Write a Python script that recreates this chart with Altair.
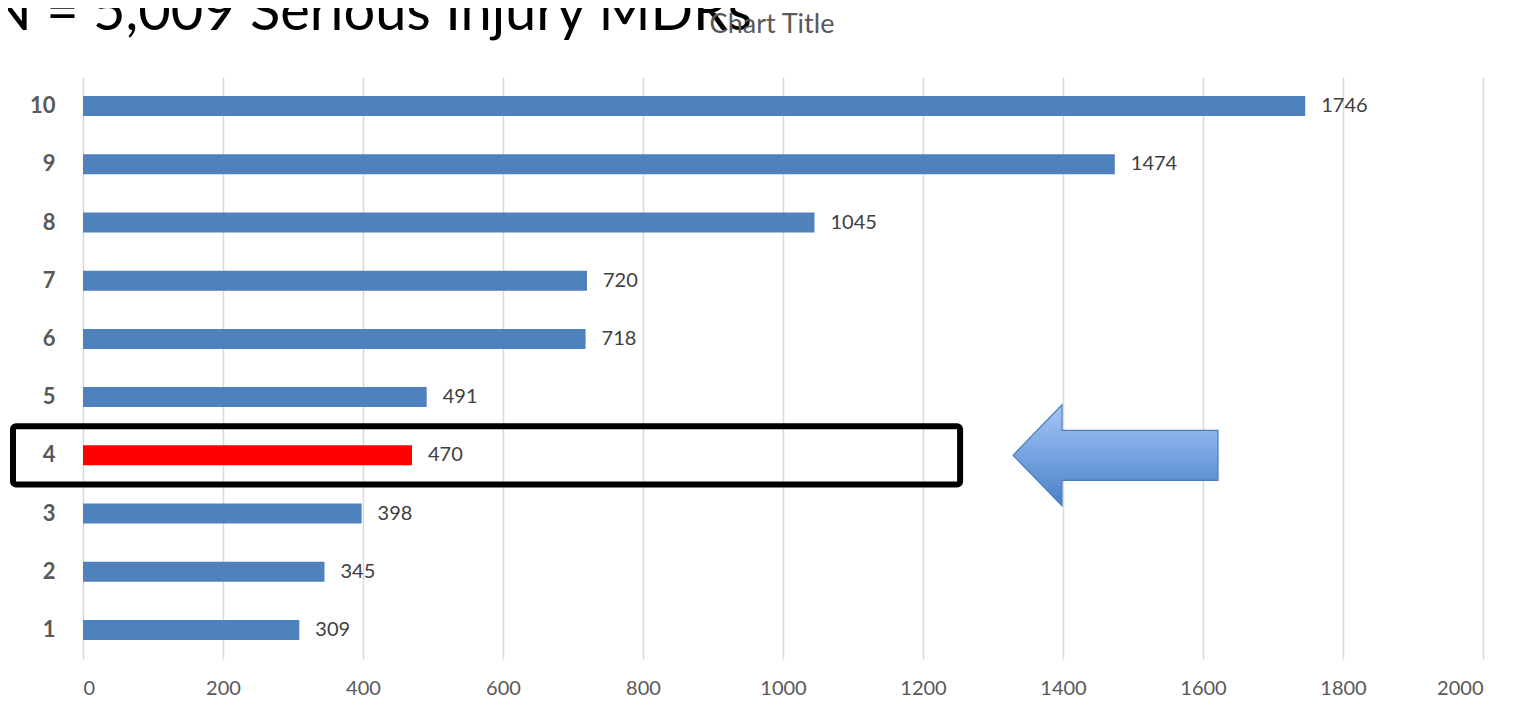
import altair as alt
import pandas as pd

categories = ["1", "2", "3", "4", "5", "6", "7", "8", "9", "10"]
values = [309, 345, 398, 470, 491, 718, 720, 1045, 1474, 1746]
bar_colors = ["#4F81BD", "#4F81BD", "#4F81BD", "#FF0000", "#4F81BD",
              "#4F81BD", "#4F81BD", "#4F81BD", "#4F81BD", "#4F81BD"]
x_ticks = [0, 200, 400, 600, 800, 1000, 1200, 1400, 1600, 1800, 2000]
highlight_category = ["4"]
box_start = [-100]
box_end = [1253]
arrow_pos = [1475]
title_main = ["N = 5,009 Serious Injury MDRs"]
title_chart = ["Chart Title"]

df = pd.DataFrame({"cat": categories, "value": values, "color": bar_colors})
order = categories[::-1]
FONT = "Lato"

x_scale = alt.Scale(domain=[0, 2000], nice=False, zero=True)
y_scale = alt.Scale(domain=order, paddingInner=0, paddingOuter=0)

x_enc = alt.X("value:Q", scale=x_scale,
              axis=alt.Axis(values=x_ticks, format="d", title=None, grid=True,
                            gridColor="#D9D9D9", gridWidth=1.5, domain=False, ticks=False,
                            labelFontSize=20, labelColor="#595959", labelPadding=19,
                            labelFont=FONT))
y_enc = alt.Y("cat:N", scale=y_scale, sort=order,
              axis=alt.Axis(title=None, domain=False, ticks=False, labelFontSize=22,
                            labelFontWeight="bold", labelColor="#595959", labelPadding=28,
                            labelFont=FONT))

base = alt.Chart(df)
bars = base.mark_bar(size=20).encode(
    x=x_enc, y=y_enc, color=alt.Color("color:N", scale=None)
)
labels = base.mark_text(align="left", baseline="middle", dx=16, fontSize=20,
                        color="#404040", font=FONT).encode(
    x="value:Q", y=alt.Y("cat:N", sort=order), text="value:Q"
)

box_df = pd.DataFrame({"cat": highlight_category, "x0": box_start, "x1": box_end})
box = alt.Chart(box_df).mark_rect(
    fillOpacity=0, stroke="black", strokeWidth=6, cornerRadius=3, clip=False
).encode(x="x0:Q", x2="x1:Q", y=alt.Y("cat:N", sort=order))

arrow_path = ("M-1,0 L-0.522,-0.493 L-0.522,-0.244 L1,-0.244 L1,0.244 "
              "L-0.522,0.244 L-0.522,0.493 Z")
arrow_df = pd.DataFrame({"cat": highlight_category, "x": arrow_pos})
arrow = alt.Chart(arrow_df).mark_point(
    shape=arrow_path, size=42025, filled=True, opacity=1,
    fill=alt.LinearGradient(gradient="linear",
                            stops=[alt.GradientStop(color="#A3C6F8", offset=0),
                                   alt.GradientStop(color="#4A80C8", offset=1)],
                            x1=0, x2=0, y1=0, y2=1),
    stroke="#4A7EBB", strokeWidth=1.2, clip=False
).encode(x="x:Q", y=alt.Y("cat:N", sort=order))

t1 = alt.Chart(pd.DataFrame({"t": title_main})).mark_text(
    align="right", baseline="alphabetic", fontSize=56, color="black", font=FONT
).encode(x=alt.value(669), y=alt.value(-47), text="t:N")
t2 = alt.Chart(pd.DataFrame({"t": title_chart})).mark_text(
    align="center", baseline="alphabetic", fontSize=27, color="#595959", font=FONT
).encode(x=alt.value(689), y=alt.value(-44), text="t:N")

chart = alt.layer(bars, labels, box, arrow, t1, t2).properties(
    width=1400, height=582,
    autosize=alt.AutoSizeParams(type="none"),
    padding={"left": 75, "top": 69, "right": 25, "bottom": 42},
).configure_view(stroke=None)

chart.save("out.html", embed_options={"renderer": "svg", "actions": False})
